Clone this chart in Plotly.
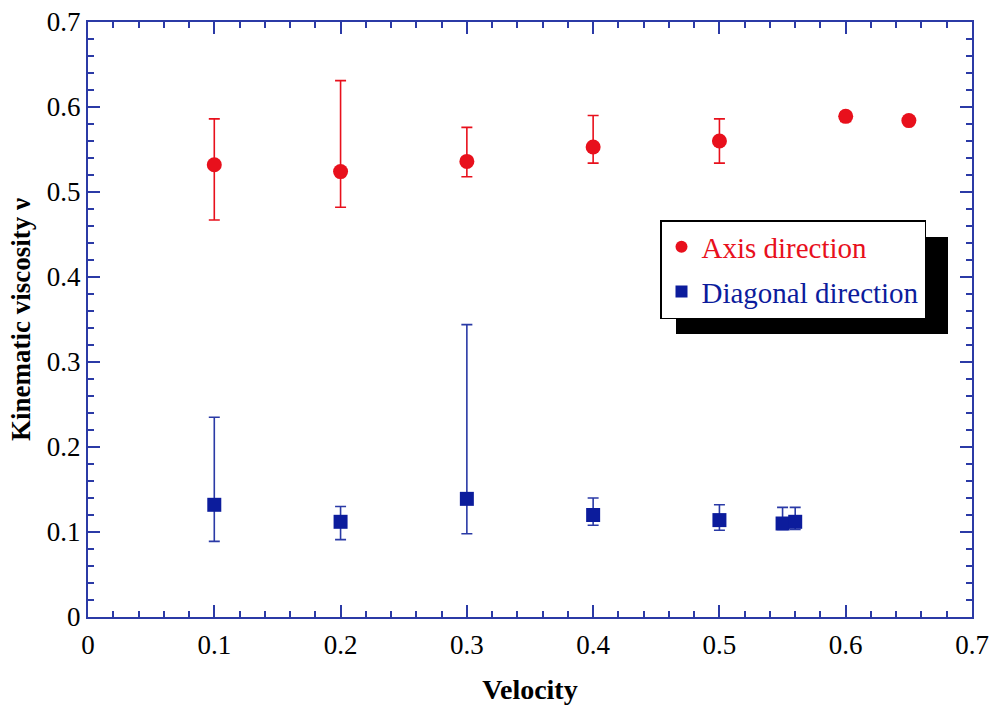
import plotly.graph_objects as go
import numpy as np

# Axis direction (red circles)
axis_vel = [0.1, 0.2, 0.3, 0.4, 0.5, 0.6, 0.65]
axis_nu = [0.532, 0.524, 0.536, 0.553, 0.560, 0.589, 0.584]
axis_hi = [0.586, 0.631, 0.576, 0.590, 0.586, 0.594, 0.587]
axis_lo = [0.467, 0.482, 0.518, 0.534, 0.534, 0.583, 0.581]

# Diagonal direction (blue squares)
diag_vel = [0.1, 0.2, 0.3, 0.4, 0.5, 0.55, 0.56]
diag_nu = [0.132, 0.112, 0.139, 0.120, 0.114, 0.110, 0.112]
diag_hi = [0.235, 0.130, 0.344, 0.140, 0.132, 0.129, 0.129]
diag_lo = [0.089, 0.091, 0.098, 0.108, 0.102, 0.103, 0.103]

tick_vals = [0, 0.1, 0.2, 0.3, 0.4, 0.5, 0.6, 0.7]
tick_text = ["0", "0.1", "0.2", "0.3", "0.4", "0.5", "0.6", "0.7"]

RED = "#e8101c"
BLUE = "#0c1c9c"
AXC = "#2b3aa6"
FONT = "Liberation Serif"

def errs(mid, hi, lo):
    m = np.array(mid)
    return (np.array(hi) - m).tolist(), (m - np.array(lo)).tolist()

a_up, a_dn = errs(axis_nu, axis_hi, axis_lo)
d_up, d_dn = errs(diag_nu, diag_hi, diag_lo)

fig = go.Figure()
fig.add_trace(go.Scatter(
    x=axis_vel, y=axis_nu, mode="markers",
    name=f"<span style='color:{RED}'>Axis direction</span>",
    legendgroup="a",
    marker=dict(symbol="circle", size=15, color=RED),
    error_y=dict(type="data", symmetric=False, array=a_up, arrayminus=a_dn,
                 color=RED, thickness=1.6, width=5.5),
))
fig.add_trace(go.Scatter(
    x=diag_vel, y=diag_nu, mode="markers",
    name=f"<span style='color:{BLUE}'>Diagonal direction</span>",
    legendgroup="b",
    marker=dict(symbol="square", size=14, color=BLUE),
    error_y=dict(type="data", symmetric=False, array=d_up, arrayminus=d_dn,
                 color="#2a3aa6", thickness=1.6, width=5.5),
))

# legend drop shadow
fig.add_shape(type="rect", xref="paper", yref="paper",
              x0=(676-88)/884, x1=(948-88)/884,
              y0=(617-334)/595, y1=(617-237)/595,
              fillcolor="black", line=dict(width=0), layer="above")

axis_common = dict(
    showgrid=False, zeroline=False, showline=True, linecolor=AXC, linewidth=2,
    mirror="allticks", ticks="inside", ticklen=12, tickwidth=2, tickcolor=AXC,
    tickfont=dict(family=FONT, size=27, color="black"),
    minor=dict(ticks="inside", ticklen=6, tickwidth=1.5, tickcolor=AXC, dtick=0.02),
    tickmode="array", tickvals=tick_vals, ticktext=tick_text,
    range=[0, 0.7], automargin=False,
)

fig.update_xaxes(title=dict(text="<b>Velocity</b>", font=dict(family=FONT, size=28, color="black"), standoff=20),
                 ticklabelstandoff=3, **axis_common)
fig.update_yaxes(title=dict(text="<b>Kinematic viscosity ν</b>", font=dict(family=FONT, size=27, color="black"), standoff=8),
                 **axis_common)

fig.update_layout(
    width=996, height=709,
    margin=dict(l=88, r=24, t=22, b=92),
    paper_bgcolor="white", plot_bgcolor="white",
    font=dict(family=FONT, color="black"),
    showlegend=True,
    legend=dict(x=(660-88)/884, y=(617-220)/595, xanchor="left", yanchor="top",
                bgcolor="white", bordercolor="black", borderwidth=1.5,
                font=dict(family=FONT, size=29), tracegroupgap=4,
                traceorder="grouped", itemsizing="constant"),
)

fig.write_html("out.html")
